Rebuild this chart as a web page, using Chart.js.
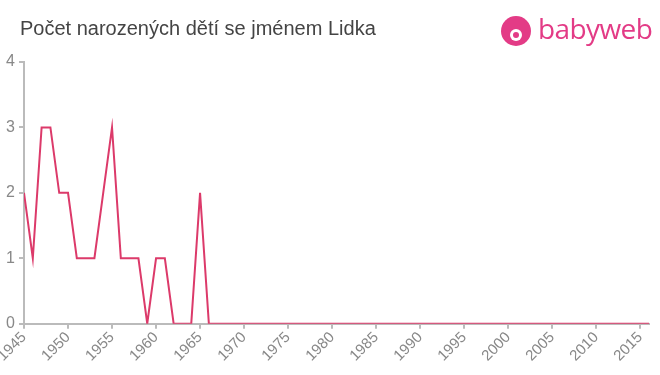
<!DOCTYPE html>
<html><head><meta charset="utf-8">
<script src="https://cdn.jsdelivr.net/npm/chart.js@4/dist/chart.umd.min.js"></script>
<style>
html,body{margin:0;padding:0;background:#fff;}
#wrap{position:relative;width:660px;height:375px;overflow:hidden;}
#c{position:absolute;left:0;top:0;}
#title{position:absolute;left:20px;top:17px;font:20px "Liberation Sans",Arial,sans-serif;color:#444;white-space:nowrap;}
#logo{position:absolute;left:501px;top:15px;height:34px;}
#logo .ic{position:absolute;left:0;top:1px;width:30px;height:30px;border-radius:50%;background:#e33b86;}
#logo .face{position:absolute;left:9px;top:13px;width:12px;height:12px;border-radius:50%;background:#fff;}
#logo .dot{position:absolute;left:12px;top:16px;width:6px;height:6px;border-radius:50%;background:#e33b86;}
#logo .txt{position:absolute;left:37px;top:-6px;font:28px "Open Sans",sans-serif;color:#e33b86;letter-spacing:-0.6px;white-space:nowrap;}
</style></head>
<body><div id="wrap">
<canvas id="c" width="660" height="375"></canvas>
<div id="title">Počet narozených dětí se jménem Lidka</div>
<div id="logo"><div class="ic"><div class="face"></div><div class="dot"></div></div><div class="txt">babyweb</div></div>
</div>
<script>
const years = [];
for (let y = 1945; y <= 2016; y++) years.push(y);
const earlyCounts = [2,1,3,3,2,2,1,1,1,2,3,1,1,1,0,1,1,0,0,0,2,0];
const counts = earlyCounts.concat(new Array(years.length - earlyCounts.length).fill(0));
const yTicks = [0,1,2,3,4];
const xTickStep = 5;

const points = years.map((y,i)=>({x:y,y:counts[i]}));

new Chart(document.getElementById('c'), {
  type:'line',
  data:{datasets:[{data:points,borderColor:'#dc3a6a',borderWidth:2,pointRadius:0,tension:0,fill:false}]},
  options:{
    responsive:false,animation:false,
    layout:{padding:{left:0,right:11,top:62,bottom:10}},
    plugins:{legend:{display:false},tooltip:{enabled:false}},
    scales:{
      x:{type:'linear',min:years[0],max:years[years.length-1],
        afterFit:(s)=>{s.paddingLeft=0;s.paddingRight=0;},
        border:{color:'#bbb',width:2},
        grid:{display:true,drawOnChartArea:false,drawTicks:true,tickLength:5,color:'#bbb',lineWidth:2},
        ticks:{stepSize:xTickStep,includeBounds:false,maxRotation:45,minRotation:45,autoSkip:false,
          color:'#888',font:{family:'"Liberation Sans",Arial,sans-serif',size:15},padding:0,
          callback:(v)=>String(v)}
      },
      y:{min:yTicks[0],max:yTicks[yTicks.length-1],
        afterFit:(s)=>{s.width=24;},
        border:{color:'#bbb',width:2},
        grid:{display:true,drawOnChartArea:false,drawTicks:true,tickLength:5,color:'#bbb',lineWidth:2},
        ticks:{stepSize:1,color:'#888',padding:4,font:{family:'"Liberation Sans",Arial,sans-serif',size:16}}
      }
    }
  }
});
</script>
</body></html>
